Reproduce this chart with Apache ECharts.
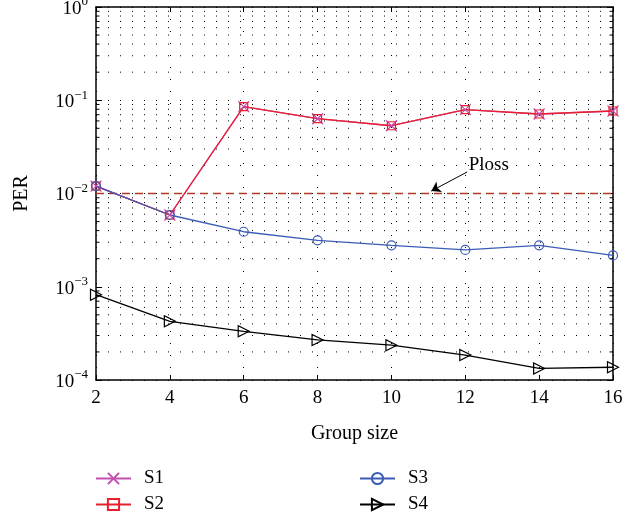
<!DOCTYPE html>
<html>
<head>
<meta charset="utf-8">
<script src="https://cdn.jsdelivr.net/npm/echarts@6/dist/echarts.min.js"></script>
<style>
html,body{margin:0;padding:0;background:#fff;}
#chart{width:641px;height:519px;}
</style>
</head>
<body>
<div id="chart"></div>
<script>
const groupSizes = [2, 4, 6, 8, 10, 12, 14, 16];
const s1Values = [0.0120, 0.00588, 0.0853, 0.0634, 0.0533, 0.0792, 0.0712, 0.0767];
const s2Values = [0.0120, 0.00588, 0.0853, 0.0634, 0.0533, 0.0792, 0.0712, 0.0767];
const s3Values = [0.0120, 0.00588, 0.00389, 0.00315, 0.00278, 0.00248, 0.00278, 0.00217];
const s4Values = [0.000822, 0.000426, 0.000333, 0.000269, 0.000236, 0.000185, 0.000133, 0.000137];
const plossValue = 0.01;
const seriesNames = ['S1', 'S2', 'S3', 'S4'];

const FONT = 'Liberation Serif';
const FS = 19;
const pairs = vals => groupSizes.map((g, i) => [g, vals[i]]);

// minor grid values 2..9 × 10^e
const minorValues = [];
for (let e = -4; e < 0; e++) for (let k = 2; k <= 9; k++) minorValues.push(k * Math.pow(10, e));

const xMin = groupSizes[0], xMax = groupSizes[groupSizes.length - 1];

const chart = echarts.init(document.getElementById('chart'), null, {renderer: 'canvas'});
const dotted = [1, 11];

const legendPos = [[95, 469], [95, 495], [359, 469], [359, 495]];
const legends = seriesNames.map((n, i) => ({
  data: [n], orient: 'horizontal', left: legendPos[i][0], top: legendPos[i][1],
  itemWidth: 35, itemHeight: 14, padding: 0,
  textStyle: {fontFamily: FONT, fontSize: FS, color: '#000', padding: [0, 0, 0, 8]}
}));

const option = {
  animation: false,
  backgroundColor: '#fff',
  grid: {left: 96, right: 28, top: 7, bottom: 139, containLabel: false, outerBoundsMode: 'none'},
  xAxis: [{
    type: 'value', min: xMin, max: xMax, interval: 2,
    name: 'Group size', nameLocation: 'middle', nameGap: 44,
    nameTextStyle: {fontFamily: FONT, fontSize: 20, color: '#000'},
    axisLine: {show: true, lineStyle: {color: '#000', width: 1.5}},
    axisTick: {show: true, inside: true, length: 5, lineStyle: {color: '#000'}},
    axisLabel: {fontFamily: FONT, fontSize: FS, color: '#000', margin: 9},
    splitLine: {show: true, lineStyle: {color: '#000', width: 1, type: dotted}}
  }, {
    type: 'value', min: xMin, max: xMax, interval: 2, position: 'top',
    axisLine: {show: true, lineStyle: {color: '#000', width: 1.5}},
    axisTick: {show: true, inside: true, length: 5, lineStyle: {color: '#000'}},
    axisLabel: {show: false}, splitLine: {show: false}
  }],
  yAxis: [{
    type: 'log', logBase: 10, min: 1e-4, max: 1,
    name: 'PER', nameLocation: 'middle', nameGap: 64, nameRotate: 90,
    nameTextStyle: {fontFamily: FONT, fontSize: 20, color: '#000'},
    axisLine: {show: true, lineStyle: {color: '#000', width: 1.5}},
    axisTick: {show: true, inside: true, length: 6, lineStyle: {color: '#000'}},
    axisLabel: {
      margin: 8,
      formatter: v => {
        const e = Math.round(Math.log10(v));
        return '{b|10}{s|' + (e < 0 ? '\u2212' + (-e) : e) + '}';
      },
      rich: {
        b: {fontFamily: FONT, fontSize: FS, color: '#000', verticalAlign: 'bottom', padding: [4, 0, 0, 0]},
        s: {fontFamily: FONT, fontSize: 13, color: '#000', verticalAlign: 'top', padding: [0, 0, 8, 0]}
      }
    },
    splitLine: {show: true, lineStyle: {color: '#000', width: 1, type: dotted}}
  }, {
    type: 'log', logBase: 10, min: 1e-4, max: 1, position: 'right',
    axisLine: {show: true, lineStyle: {color: '#000', width: 1.5}},
    axisTick: {show: true, inside: true, length: 6, lineStyle: {color: '#000'}},
    axisLabel: {show: false}, splitLine: {show: false}
  }],
  legend: legends,
  series: [
    {
      type: 'custom', silent: true, z: 1,
      data: minorValues.map(v => [xMin, v]),
      encode: {x: 0, y: 1},
      renderItem: (params, api) => {
        const v = api.value(1);
        const a = api.coord([xMin, v]);
        const b = api.coord([xMax, v]);
        return {type: 'group', children: [
          {type: 'line', shape: {x1: a[0], y1: a[1], x2: b[0], y2: b[1]}, style: {stroke: '#000', lineWidth: 1, lineDash: dotted}},
          {type: 'line', shape: {x1: a[0], y1: a[1], x2: a[0] + 3.5, y2: a[1]}, style: {stroke: '#000', lineWidth: 1}},
          {type: 'line', shape: {x1: b[0] - 3.5, y1: b[1], x2: b[0], y2: b[1]}, style: {stroke: '#000', lineWidth: 1}}
        ]};
      }
    },
    {
      name: 'Ploss', type: 'line', z: 2,
      data: [[xMin, plossValue], [xMax, plossValue]],
      symbol: 'none',
      lineStyle: {color: '#b23a26', width: 1.3, type: [8, 5]},
      markLine: {
        silent: true, symbol: ['none', 'arrow'], symbolSize: 9,
        lineStyle: {color: '#000', width: 1, type: 'solid'},
        label: {show: false},
        data: [[{coord: [12.05, 0.0170]}, {coord: [11.08, 0.01063]}]]
      },
      markPoint: {
        silent: true, symbol: 'circle', symbolSize: 1,
        itemStyle: {color: 'rgba(0,0,0,0)'},
        label: {show: true, position: 'right', distance: 0, formatter: 'Ploss',
                fontFamily: FONT, fontSize: FS, color: '#000'},
        data: [{coord: [12.08, 0.0202]}]
      }
    },
    {
      name: 'S1', type: 'line', z: 3, data: pairs(s1Values),
      symbol: 'path://M0,0L10,10M10,0L0,10', symbolSize: 11, showSymbol: true,
      lineStyle: {color: '#c24fb2', width: 1.3},
      itemStyle: {color: 'rgba(0,0,0,0)', borderColor: '#c24fb2', borderWidth: 1.2}
    },
    {
      name: 'S2', type: 'line', z: 3, data: pairs(s2Values),
      symbol: 'rect', symbolSize: 8, showSymbol: true,
      lineStyle: {color: '#e8202e', width: 1.3},
      itemStyle: {color: 'rgba(0,0,0,0)', borderColor: '#e8202e', borderWidth: 1.2}
    },
    {
      name: 'S3', type: 'line', z: 3, data: pairs(s3Values),
      symbol: 'circle', symbolSize: 9, showSymbol: true,
      lineStyle: {color: '#3b5cb6', width: 1.3},
      itemStyle: {color: 'rgba(0,0,0,0)', borderColor: '#3b5cb6', borderWidth: 1.2}
    },
    {
      name: 'S4', type: 'line', z: 3, data: pairs(s4Values),
      symbol: 'triangle', symbolRotate: -90, symbolSize: 11, showSymbol: true,
      lineStyle: {color: '#000', width: 1.3},
      itemStyle: {color: 'rgba(0,0,0,0)', borderColor: '#000', borderWidth: 1.2}
    }
  ]
};
chart.setOption(option);
</script>
</body>
</html>
